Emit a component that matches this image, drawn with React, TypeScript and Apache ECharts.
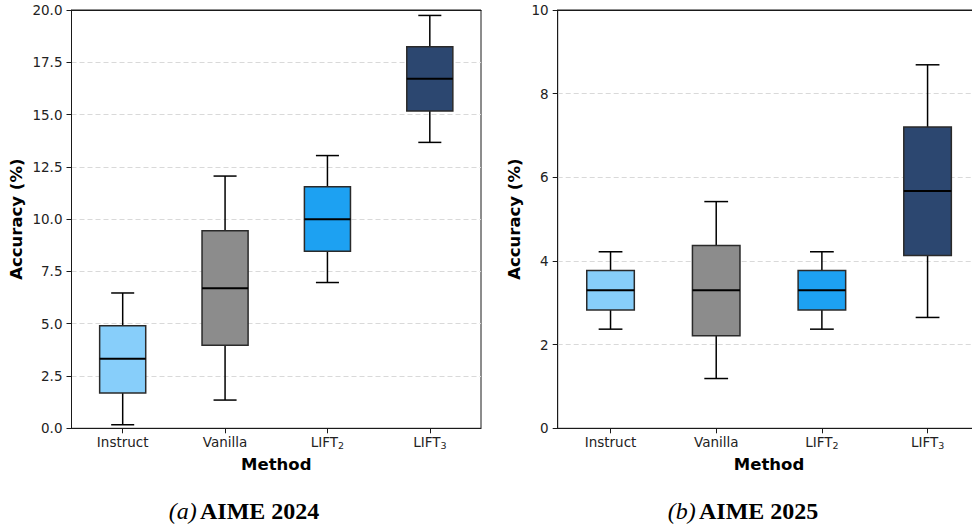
import React, { useEffect, useRef } from "react";
import * as echarts from "echarts";

const categories = ["Instruct", "Vanilla", "LIFT2", "LIFT3"];
const boxColors = ["#87CEFA", "#8C8C8C", "#1DA1F2", "#2C4770"];

// [min, Q1, median, Q3, max]
const aime2024 = [
  [0.17, 1.69, 3.32, 4.9, 6.47],
  [1.35, 3.97, 6.7, 9.45, 12.06],
  [6.97, 8.47, 10.0, 11.55, 13.04],
  [13.67, 15.17, 16.71, 18.24, 19.74],
];
const aime2025 = [
  [2.37, 2.83, 3.3, 3.77, 4.22],
  [1.19, 2.21, 3.3, 4.37, 5.42],
  [2.37, 2.83, 3.3, 3.77, 4.22],
  [2.65, 4.13, 5.67, 7.2, 8.69],
];
const yTicks2024 = { min: 0, max: 20, interval: 2.5 };
const yTicks2025 = { min: 0, max: 10, interval: 2 };
const captions = [
  { tag: "(a)", title: "AIME 2024" },
  { tag: "(b)", title: "AIME 2025" },
];

const FONT = "DejaVu Sans";
const INK = "#1a1a1a";

function catLabel(v: string) {
  const m = /^LIFT(\d)$/.exec(v);
  if (m) return "{n|LIFT}{s|" + m[1] + "}";
  return "{n|" + v + "}";
}

function renderBox(params: any, api: any) {
  const x = api.value(0);
  const pMin = api.coord([x, api.value(1)]);
  const pQ1 = api.coord([x, api.value(2)]);
  const pMed = api.coord([x, api.value(3)]);
  const pQ3 = api.coord([x, api.value(4)]);
  const pMax = api.coord([x, api.value(5)]);
  const bw = api.size([1, 0])[0] * 0.45;
  const cx = pMed[0];
  const color = boxColors[params.dataIndex];
  const wStyle = { stroke: "#000", lineWidth: 1.5 };
  return {
    type: "group",
    children: [
      { type: "line", shape: { x1: cx, y1: pMax[1], x2: cx, y2: pQ3[1] }, style: wStyle },
      { type: "line", shape: { x1: cx, y1: pQ1[1], x2: cx, y2: pMin[1] }, style: wStyle },
      { type: "line", shape: { x1: cx - bw / 4, y1: pMax[1], x2: cx + bw / 4, y2: pMax[1] }, style: wStyle },
      { type: "line", shape: { x1: cx - bw / 4, y1: pMin[1], x2: cx + bw / 4, y2: pMin[1] }, style: wStyle },
      {
        type: "rect",
        shape: { x: cx - bw / 2, y: pQ3[1], width: bw, height: pQ1[1] - pQ3[1] },
        style: { fill: color, stroke: "#2a2a2a", lineWidth: 1.5 },
      },
      { type: "line", shape: { x1: cx - bw / 2, y1: pMed[1], x2: cx + bw / 2, y2: pMed[1] }, style: { stroke: "#000", lineWidth: 2 } },
    ],
  };
}

function toData(rows: number[][]) {
  return rows.map((r, i) => [i, ...r]);
}

export default function App() {
  const ref = useRef<HTMLDivElement>(null);
  useEffect(() => {
    if (!ref.current) return;
    const chart = echarts.init(ref.current, null, { renderer: "svg" });
    const grids: any[] = [
      { left: 71.5, top: 10, width: 409.5, height: 418.3 },
      { left: 557.7, top: 10, width: 422.7, height: 418.3 },
    ];
    const yNameGaps = [46.5, 35];
    const yCfg = [yTicks2024, yTicks2025];
    const xAxes: any[] = grids.map((_, i) => ({
      type: "category",
      gridIndex: i,
      data: categories,
      boundaryGap: true,
      name: "Method",
      nameLocation: "middle",
      nameGap: 28,
      nameTextStyle: { fontFamily: FONT, fontWeight: "bold", fontSize: 16.5, color: "#000" },
      axisLine: { show: true, lineStyle: { color: INK, width: 1 } },
      axisTick: { show: true, alignWithLabel: true, length: 5, lineStyle: { color: INK } },
      axisLabel: {
        interval: 0,
        margin: 7,
        color: "#222",
        fontFamily: FONT,
        fontSize: 13.5,
        formatter: (v: string) => catLabel(v),
        rich: {
          n: { fontFamily: FONT, fontSize: 13.5, color: "#222", lineHeight: 14, verticalAlign: "top" },
          s: { fontFamily: FONT, fontSize: 9.5, color: "#222", lineHeight: 10, padding: [5, 0, 0, 0], verticalAlign: "top" },
        },
      },
      splitLine: { show: false },
    }));
    // top border lines (drawn above the grid lines)
    grids.forEach((_, i) => {
      xAxes.push({
        type: "category",
        gridIndex: i,
        position: "top",
        data: categories,
        axisLine: { show: true, onZero: false, lineStyle: { color: INK, width: 1 } },
        axisTick: { show: false },
        axisLabel: { show: false },
        splitLine: { show: false },
      });
    });
    const yAxes: any[] = grids.map((_, i) => ({
      type: "value",
      gridIndex: i,
      min: yCfg[i].min,
      max: yCfg[i].max,
      interval: yCfg[i].interval,
      name: "Accuracy (%)",
      nameLocation: "middle",
      nameGap: yNameGaps[i],
      nameTextStyle: { fontFamily: FONT, fontWeight: "bold", fontSize: 16.5, color: "#000" },
      axisLine: { show: true, lineStyle: { color: INK, width: 1 } },
      axisTick: { show: true, length: 5, lineStyle: { color: INK } },
      axisLabel: {
        margin: 9,
        color: "#222",
        fontFamily: FONT,
        fontSize: 13.5,
        formatter: (v: number) => (i === 0 ? v.toFixed(1) : String(v)),
      },
      splitLine: { show: true, lineStyle: { color: "#d9d9d9", type: [5, 3], width: 1 } },
    }));
    chart.setOption({
      animation: false,
      backgroundColor: "#fff",
      grid: grids.map((g) => ({
        ...g,
        show: true,
        borderColor: INK,
        borderWidth: 1,
        backgroundColor: "transparent",
        containLabel: false,
        outerBoundsMode: "none",
      })),
      xAxis: xAxes,
      yAxis: yAxes,
      series: [aime2024, aime2025].map((rows, i) => ({
        type: "custom",
        xAxisIndex: i,
        yAxisIndex: i,
        renderItem: renderBox,
        encode: { x: 0, y: [1, 2, 3, 4, 5] },
        data: toData(rows),
        z: 5,
      })),
      graphic: captions.map((c, i) => ({
        type: "text",
        x: i === 0 ? 244 : 743,
        y: 511,
        style: {
          text: "{i|" + c.tag + "} {b|" + c.title + "}",
          align: "center",
          verticalAlign: "middle",
          rich: {
            i: { fontFamily: "Liberation Serif", fontStyle: "italic", fontSize: 24, fill: "#000" },
            b: { fontFamily: "Liberation Serif", fontWeight: "bold", fontSize: 24, fill: "#000" },
          },
        },
      })),
    });
    return () => chart.dispose();
  }, []);
  return <div ref={ref} style={{ position: "absolute", left: 0, top: 0, width: 972, height: 525 }} />;
}
